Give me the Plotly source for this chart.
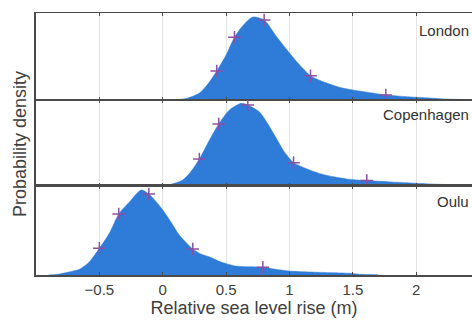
import plotly.graph_objects as go

# ---- data (density units) ----
london_x = [0.05, 0.13, 0.2, 0.29, 0.35, 0.426, 0.5, 0.566, 0.63, 0.71, 0.8, 0.9, 1.0, 1.08, 1.166,
            1.25, 1.315, 1.4, 1.5, 1.6, 1.76, 1.9, 2.0, 2.1, 2.23, 2.35, 2.5]
london_y = [0.0, 0.01, 0.04, 0.14, 0.3, 0.58, 0.9, 1.254, 1.48, 1.66, 1.6, 1.26, 0.94, 0.7, 0.486,
            0.38, 0.32, 0.25, 0.2, 0.16, 0.1, 0.07, 0.054, 0.04, 0.02, 0.01, 0.006]
london_q = [0.426, 0.566, 0.80, 1.166, 1.76]
london_qy = [0.58, 1.254, 1.6, 0.486, 0.1]

cph_x = [-0.05, 0.03, 0.1, 0.158, 0.22, 0.289, 0.369, 0.442, 0.526, 0.619, 0.671, 0.763, 0.83, 0.895,
         0.96, 1.032, 1.1, 1.158, 1.25, 1.34, 1.45, 1.61, 1.8, 2.0, 2.2, 2.4]
cph_y = [0.0, 0.01, 0.06, 0.12, 0.28, 0.54, 0.92, 1.24, 1.52, 1.654, 1.62, 1.48, 1.24, 0.96,
         0.68, 0.466, 0.38, 0.32, 0.24, 0.186, 0.14, 0.106, 0.08, 0.054, 0.03, 0.016]
cph_q = [0.289, 0.442, 0.671, 1.032, 1.61]
cph_qy = [0.54, 1.24, 1.62, 0.466, 0.106]

oulu_x = [-0.9, -0.815, -0.74, -0.657, -0.58, -0.5, -0.42, -0.347, -0.263, -0.17, -0.11, -0.05, 0.0,
          0.07, 0.13, 0.237, 0.3, 0.37, 0.46, 0.574, 0.79, 0.9, 1.0, 1.2, 1.48, 1.55, 1.7]
oulu_y = [0.0, 0.02, 0.06, 0.114, 0.26, 0.534, 0.84, 1.22, 1.46, 1.7, 1.62, 1.46, 1.3,
          1.04, 0.8, 0.52, 0.42, 0.36, 0.26, 0.18, 0.154, 0.11, 0.08, 0.056, 0.034, 0.016, 0.006]
oulu_q = [-0.5, -0.347, -0.11, 0.237, 0.79]
oulu_qy = [0.534, 1.22, 1.62, 0.52, 0.154]

cities = ["London", "Copenhagen", "Oulu"]
tick_vals = [-0.5, 0, 0.5, 1, 1.5, 2]
tick_text = ["\u22120.5", "0", "0.5", "1", "1.5", "2"]

FILL = "#2f7bd8"
MARK = "#8e4fa3"
AX = "#4a4a4a"
TXT = "#404040"
FONT = "Liberation Sans, Arial, sans-serif"

series = [(london_x, london_y, london_q, london_qy),
          (cph_x, cph_y, cph_q, cph_qy),
          (oulu_x, oulu_y, oulu_q, oulu_qy)]

domains = [[0.668, 1.0], [0.340, 0.668], [0.0, 0.340]]
yranges = [[0, 1.74], [0, 1.72], [0, 1.78]]
# right-aligned at the plot's right edge so the names stay fully visible
label_pos = [(2.43, 0.935), (2.43, 0.611), (2.43, 0.280)]

fig = go.Figure()
for i, (xs, ys, qx, qy) in enumerate(series):
    n = "" if i == 0 else str(i + 1)
    fig.add_trace(go.Scatter(x=xs, y=ys, mode="lines", fill="tozeroy",
                             fillcolor=FILL, line=dict(color=FILL, width=0.5, shape="spline", smoothing=0.7),
                             xaxis="x" + n, yaxis="y" + n, showlegend=False, hoverinfo="skip"))
    fig.add_trace(go.Scatter(x=qx, y=qy, mode="markers",
                             marker=dict(symbol="cross-thin-open", size=9, color=MARK,
                                         line=dict(color=MARK, width=1.5)),
                             xaxis="x" + n, yaxis="y" + n, showlegend=False))

layout = dict(width=472, height=320, margin=dict(l=36, r=0, t=13, b=45),
              plot_bgcolor="white", paper_bgcolor="white",
              font=dict(family=FONT, color=TXT, size=15))
for i in range(3):
    n = "" if i == 0 else str(i + 1)
    layout["xaxis" + n] = dict(domain=[0, 1], anchor="y" + n, range=[-1.0, 2.44],
                               tickvals=tick_vals, ticktext=tick_text,
                               showticklabels=(i == 2), ticks="inside", ticklen=3,
                               tickcolor=AX, showline=True, linecolor=AX,
                               linewidth=1.6 if i == 2 else 1, mirror="ticks",
                               showgrid=True, gridcolor="#e4e4e4", gridwidth=1, zeroline=False,
                               tickfont=dict(size=15, color=TXT), automargin=False,
                               matches="x" if i > 0 else None)
    layout["yaxis" + n] = dict(domain=domains[i], anchor="x" + n, range=yranges[i],
                               showticklabels=False, ticks="", showline=True, linecolor=AX,
                               linewidth=1.6, mirror=False, showgrid=False, zeroline=False,
                               automargin=False)
layout["xaxis3"]["title"] = dict(text="Relative sea level rise (m)", font=dict(size=18, color=TXT), standoff=4)

annotations = []
for name, (ax_, ay_), i in zip(cities, label_pos, range(3)):
    annotations.append(dict(text=name, x=ax_, y=ay_, xref="x", yref="paper",
                            xanchor="right", yanchor="middle", showarrow=False,
                            font=dict(size=15, color="#333333")))
annotations.append(dict(text="Probability density", x=-0.0367, y=0.5, xref="paper", yref="paper",
                        textangle=-90, xanchor="center", yanchor="middle", showarrow=False,
                        font=dict(size=18, color=TXT)))
layout["annotations"] = annotations

fig.update_layout(**layout)
fig.write_html("out.html", config={"displayModeBar": False},
               post_script="document.body.style.margin='0';document.body.style.overflow='hidden';")
